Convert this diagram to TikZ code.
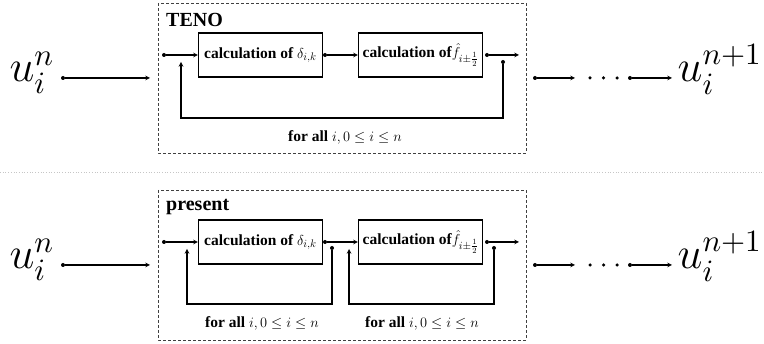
\documentclass[tikz,border=0pt]{standalone}
\usepackage{amsmath}
\usepackage{fontspec}
\setmainfont{Liberation Serif}
\usepackage{tikz}
\usetikzlibrary{positioning,arrows}

\begin{document}
\begin{tikzpicture}[x=1pt, y=-1pt, >=stealth,
    calc box/.style={draw, line width=1.1pt, minimum width=124pt, minimum height=44pt, inner sep=0pt,
        font=\fontsize{15.5}{17}\selectfont\bfseries},
    frame/.style={draw=black!75, dash pattern=on 3pt off 2pt, line width=0.8pt},
    dot/.style={circle, fill, inner sep=0pt, minimum size=4pt},
    etc dot/.style={circle, fill, inner sep=0pt, minimum size=3.5pt},
    title/.style={anchor=west, inner sep=0pt, font=\fontsize{20}{22}\selectfont\bfseries},
    loop label/.style={inner sep=0pt, font=\fontsize{15.5}{17}\selectfont\bfseries},
    big u/.style={anchor=base west, inner sep=0pt, scale=3.1, font=\fontsize{14.4}{16}\selectfont},
    link/.style={->, line width=1.1pt}]

    \useasboundingbox (0,0) rectangle (764,344);

    % separator
    \draw [gray!45, dotted, line width=0.7pt] (0,172) -- (764,172);

    % both panels
    \foreach \p/\dy/\t in {top/0/TENO, bot/187/present} {
        % frame and title
        \draw [frame] (158,3+\dy) rectangle (526,153+\dy);
        \node [title] (title-\p) at (166,20+\dy) {\t};

        % input and output values
        \node [big u] (uin-\p) at (9,82+\dy) {$u_i^n$};
        \node [big u] (uout-\p) at (677,82+\dy) {$u_i^{n+1}$};

        % boxes
        \node [calc box] (calc1-\p) at (260.5,55+\dy) {calculation of $\delta_{i,k}$};
        \node [calc box] (calc2-\p) at (420.5,55+\dy) {calculation of$\hat{f}_{i\pm\frac{1}{2}}$};

        % dots
        \node [dot] (in-\p) at (164,55+\dy) {};
        \node [dot] (mid-\p) at (325,55+\dy) {};
        \node [dot] (out-\p) at (487,55+\dy) {};
        \coordinate (outend-\p) at (519,55+\dy);

        \node [dot] (start-\p) at (63,78+\dy) {};
        \coordinate (startend-\p) at (150,78+\dy);
        \node [dot] (next-\p) at (535,78+\dy) {};
        \coordinate (nextend-\p) at (575,78+\dy);
        \foreach \x [count=\k] in {590,603.5,617}
            \node [etc dot] (etc-\p-\k) at (\x,78+\dy) {};
        \node [dot] (last-\p) at (630,78+\dy) {};
        \coordinate (lastend-\p) at (672,78+\dy);

        % lines
        \draw [link] (start-\p) -- (startend-\p);
        \draw [link] (in-\p) -- (calc1-\p);
        \draw [link] (mid-\p) -- (calc2-\p);
        \draw [link] (out-\p) -- (outend-\p);
        \draw [link] (next-\p) -- (nextend-\p);
        \draw [link] (last-\p) -- (lastend-\p);
    }

    % loop of TENO
    \node [dot] (fb-top) at (503,62) {};
    \coordinate (fbend-top) at (181,62);
    \draw [link] (fb-top) -- ++(0,56) -| (fbend-top);
    \node [loop label] (loop-top) at (345,137) {for all $i, 0 \le i \le n$};

    % loops of present
    \node [dot] (fb1-bot) at (332,248) {};
    \coordinate (fb1end-bot) at (187,249);
    \draw [link] (fb1-bot) -- ++(0,56) -| (fb1end-bot);
    \node [loop label] (loop1-bot) at (262,323) {for all $i, 0 \le i \le n$};

    \node [dot] (fb2-bot) at (494,248) {};
    \coordinate (fb2end-bot) at (349,249);
    \draw [link] (fb2-bot) -- ++(0,56) -| (fb2end-bot);
    \node [loop label] (loop2-bot) at (422,323) {for all $i, 0 \le i \le n$};

\end{tikzpicture}
\end{document}
